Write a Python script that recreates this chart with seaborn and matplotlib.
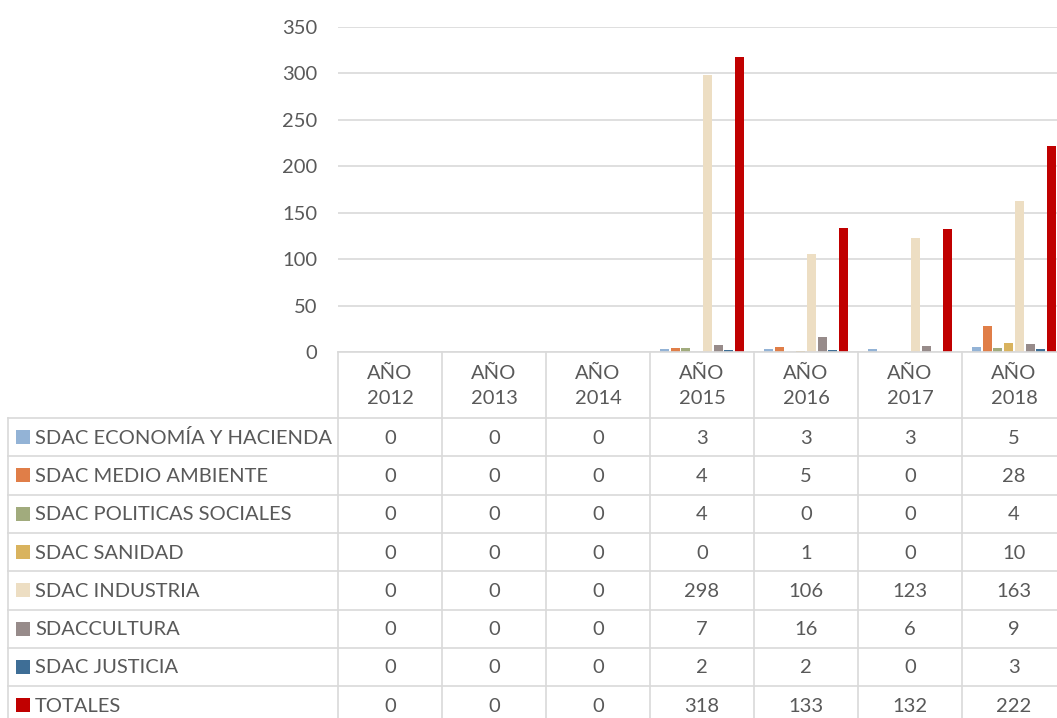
import pandas as pd
import matplotlib
matplotlib.use("Agg")
import matplotlib.pyplot as plt
import seaborn as sns

# data
years = ["AÑO\n2012", "AÑO\n2013", "AÑO\n2014", "AÑO\n2015", "AÑO\n2016", "AÑO\n2017", "AÑO\n2018"]
series = ["SDAC ECONOMÍA Y HACIENDA", "SDAC MEDIO AMBIENTE", "SDAC POLITICAS SOCIALES",
          "SDAC SANIDAD", "SDAC INDUSTRIA", "SDACCULTURA", "SDAC JUSTICIA", "TOTALES"]
economia = [0, 0, 0, 3, 3, 3, 5]
medio_ambiente = [0, 0, 0, 4, 5, 0, 28]
politicas = [0, 0, 0, 4, 0, 0, 4]
sanidad = [0, 0, 0, 0, 1, 0, 10]
industria = [0, 0, 0, 298, 106, 123, 163]
cultura = [0, 0, 0, 7, 16, 6, 9]
justicia = [0, 0, 0, 2, 2, 0, 3]
totales = [0, 0, 0, 318, 133, 132, 222]
colors = ["#93B3D6", "#E07E48", "#A1AB7D", "#D9B35E", "#EDDEC3", "#978B8A", "#3E6E96", "#C00000"]

values = [economia, medio_ambiente, politicas, sanidad, industria, cultura, justicia, totales]
rows = []
for s, vals in zip(series, values):
    for y, v in zip(years, vals):
        rows.append({"year": y, "serie": s, "value": v})
df = pd.DataFrame(rows)

plt.rcParams["font.family"] = ["Lato", "DejaVu Sans"]
txt = "#595959"
grid = "#D9D9D9"
fs = 14.5

W, H = 1057, 718
fig = plt.figure(figsize=(W / 100, H / 100), dpi=100)

# layout in pixels
left, cw = 338, 104
top0, base = 27, 352
hdr_bottom = 418
rh = 38.3

ax = fig.add_axes([left / W, 1 - base / H, (W - left) / W, (base - top0) / H])
sns.barplot(data=df, x="year", y="value", hue="serie", order=years, hue_order=series,
            palette=colors, saturation=1, width=0.83, gap=0.17, linewidth=0,
            legend=False, ax=ax)
ax.set_ylim(0, 350)
ax.set_xlim(-0.5, -0.5 + (W - left) / cw)
ax.set_yticks(range(0, 351, 50))
ax.yaxis.grid(True, color=grid, linewidth=1.2)
ax.set_axisbelow(True)
for sp in ax.spines.values():
    sp.set_visible(False)
ax.tick_params(axis="y", length=0, pad=15, labelsize=fs, labelcolor=txt)
ax.set_xticks([])
ax.set_xlabel("")
ax.set_ylabel("")

# data table under the chart
tb = fig.add_axes([0, 0, 1, 1])
tb.set_xlim(0, W)
tb.set_ylim(H, 0)
tb.axis("off")
tb.patch.set_alpha(0)

lw = 1.2
tb.plot([left, W], [base, base], color=grid, lw=lw)
for k in range(len(years) + 1):
    x = left + k * cw
    tb.plot([x, x], [base, H], color=grid, lw=lw)
tb.plot([8, 8], [hdr_bottom, H], color=grid, lw=lw)
for r in range(len(series) + 1):
    y = hdr_bottom + r * rh
    tb.plot([8, W], [y, y], color=grid, lw=lw)

for k, y in enumerate(years):
    tb.text(left + (k + 0.5) * cw, (base + hdr_bottom) / 2 + 1, y, ha="center", va="center",
            fontsize=fs, color=txt, linespacing=1.6)

for r, (s, vals, c) in enumerate(zip(series, values, colors)):
    yc = hdr_bottom + (r + 0.5) * rh
    tb.add_patch(plt.Rectangle((16, yc - 7), 14, 14, color=c, lw=0))
    tb.text(35, yc + 1, s, ha="left", va="center", fontsize=fs, color=txt)
    for k, v in enumerate(vals):
        tb.text(left + (k + 0.5) * cw, yc + 1, str(v), ha="center", va="center",
                fontsize=fs, color=txt)

fig.savefig("out.png", dpi=100)
